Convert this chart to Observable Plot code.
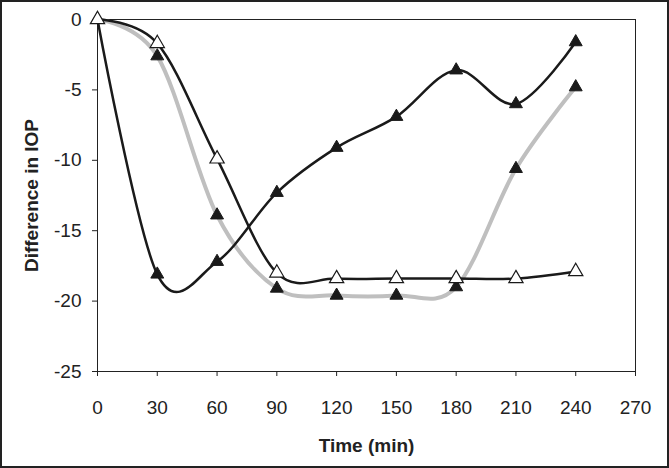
<!DOCTYPE html>
<html>
<head>
<meta charset="utf-8">
<script src="https://cdn.jsdelivr.net/npm/d3@7"></script>
<script src="https://cdn.jsdelivr.net/npm/@observablehq/plot@0.6"></script>
<style>
  html, body { margin: 0; padding: 0; background: #fff; }
  #chart svg { display: block; outline: 2px solid #222; outline-offset: -2px; }
</style>
</head>
<body>
<div id="chart"></div>
<script>
const times = [0, 30, 60, 90, 120, 150, 180, 210, 240];
const seriesA = [0, -18.1, -17.2, -12.3, -9.1, -6.9, -3.6, -6.0, -1.6];   // black line, filled triangles
const seriesB = [0, -1.7, -9.9, -18.0, -18.4, -18.4, -18.4, -18.4, -17.9]; // black line, open triangles
const seriesC = [0, -2.6, -13.9, -19.1, -19.6, -19.6, -19.0, -10.6, -4.8]; // grey line, filled triangles
const xTicks = [0, 30, 60, 90, 120, 150, 180, 210, 240, 270];
const yTicks = [-25, -20, -15, -10, -5, 0];

const A = times.map((t, i) => ({t, v: seriesA[i]}));
const B = times.map((t, i) => ({t, v: seriesB[i]}));
const C = times.map((t, i) => ({t, v: seriesC[i]}));

const curve = d3.curveCatmullRom.alpha(0);

const chart = Plot.plot({
  width: 669,
  height: 468,
  marginLeft: 97,
  marginRight: 34,
  marginTop: 19,
  marginBottom: 97,
  style: {fontFamily: "'Liberation Sans', Arial, sans-serif", fontSize: "19px", color: "#222", background: "#fff"},
  x: {domain: [0, 270]},
  y: {domain: [-25, 0]},
  marks: [
    Plot.frame({stroke: "#222", strokeWidth: 1}),
    Plot.axisX({ticks: xTicks, tickSize: 5, tickPadding: 24, tickFormat: d => String(d), label: "Time (min)", labelAnchor: "center", labelArrow: "none", labelOffset: 80}),
    Plot.axisY({ticks: yTicks, tickSize: 5, tickPadding: 11, tickFormat: d => d === 0 ? "0" : "-" + Math.abs(d), label: "Difference in IOP", labelAnchor: "center", labelArrow: "none", labelOffset: 73}),
    Plot.line(C, {x: "t", y: "v", stroke: "#bfbfbf", strokeWidth: 4, curve}),
    Plot.line(A, {x: "t", y: "v", stroke: "#1a1a1a", strokeWidth: 2.5, curve}),
    Plot.dot(A, {x: "t", y: "v", symbol: "triangle", r: 4.8, fill: "#1a1a1a", stroke: "#1a1a1a", strokeWidth: 1}),
    Plot.dot(C.slice(1), {x: "t", y: "v", symbol: "triangle", r: 4.8, fill: "#1a1a1a", stroke: "#1a1a1a", strokeWidth: 1}),
    Plot.line(B, {x: "t", y: "v", stroke: "#1a1a1a", strokeWidth: 2.5, curve}),
    Plot.dot(B, {x: "t", y: "v", symbol: "triangle", r: 5.3, fill: "#fff", stroke: "#1a1a1a", strokeWidth: 1.2})
  ]
});
d3.select(chart).selectAll("g[aria-label='x-axis label'] text, g[aria-label='y-axis label'] text").style("font-weight", "bold");
document.getElementById("chart").appendChild(chart);
</script>
</body>
</html>
